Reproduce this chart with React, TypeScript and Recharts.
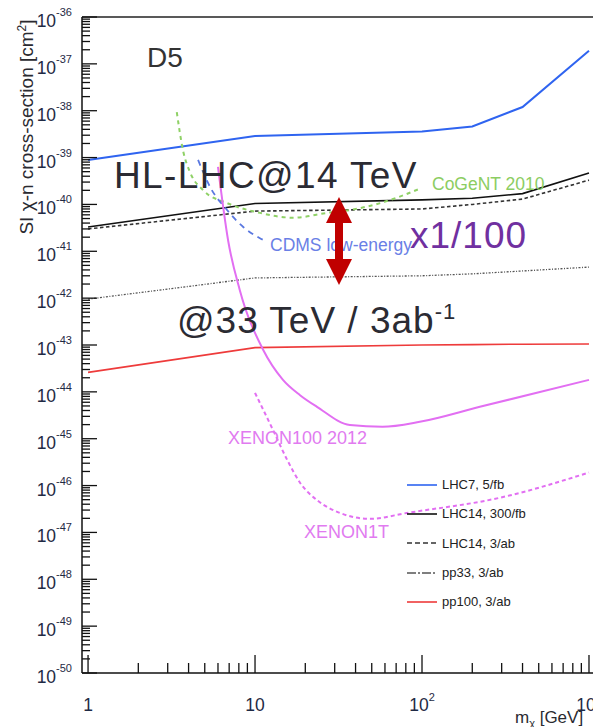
import React from "react";
import { LineChart, Line, XAxis, YAxis, ReferenceLine, Legend } from "recharts";

const FONT = "'Liberation Sans', Arial, Helvetica, sans-serif";

// collider limits for the D5 operator (SI chi-n cross-section in cm^2)
const colliderMass = [1, 10, 100, 200, 400, 1000];
const lhc7Xs = [8.9e-40, 2.9e-39, 3.6e-39, 4.6e-39, 1.2e-38, 1.9e-37];
const lhc14LumiLowXs = [3.3e-41, 1.05e-40, 1.25e-40, 1.35e-40, 1.7e-40, 4.7e-40];
const lhc14LumiHighXs = [3.0e-41, 7.2e-41, 8.0e-41, 1.0e-40, 1.3e-40, 3.3e-40];
const pp33Xs = [9.5e-43, 2.7e-42, 3.0e-42, 3.3e-42, 3.8e-42, 4.6e-42];
const pp100Xs = [2.6e-44, 8.8e-44, 1.0e-43, 1.02e-43, 1.04e-43, 1.05e-43];

// direct detection curves
const cogentMass = [3.4, 3.7, 4.1, 4.9, 6.8, 10.7, 17, 27, 37, 58, 95];
const cogentXs = [9.3e-39, 1.45e-39, 4.7e-40, 2.0e-40, 1.07e-40, 6.6e-41, 5.2e-41, 6.6e-41, 7.6e-41, 1.1e-40, 2.1e-40];
const cdmsMass = [4.56, 5.4, 6.8, 8.5, 10.7, 11.8];
const cdmsXs = [8.9e-40, 2.3e-40, 7.6e-41, 3.3e-41, 1.9e-41, 1.6e-41];
const xenon100Mass = [6.0, 6.9, 8.1, 11.2, 14.7, 18.6, 23.5, 37, 58, 97, 222, 1000];
const xenon100Xs = [6.3e-40, 1.7e-41, 1.5e-42, 7.8e-44, 1.8e-44, 8.5e-45, 4.8e-45, 1.96e-45, 1.8e-45, 2.3e-45, 4.8e-45, 1.8e-44];
const xenon1tMass = [10, 12.8, 15.6, 18.6, 23.5, 32.3, 48.8, 81, 293, 1000];
const xenon1tXs = [9.5e-45, 1.55e-45, 3.5e-46, 1.15e-46, 4.9e-47, 2.6e-47, 1.95e-47, 2.6e-47, 5.5e-47, 1.9e-46];

// axis ticks
const yExponents = [-50, -49, -48, -47, -46, -45, -44, -43, -42, -41, -40, -39, -38, -37, -36];
const xExponents = [0, 1, 2, 3];
const minorSteps = [2, 3, 4, 5, 6, 7, 8, 9];

const yTicks = yExponents.flatMap((e) => {
  const base = Math.pow(10, e);
  return e < -36 ? [base, ...minorSteps.map((s) => s * base)] : [base];
});
const xTicks = xExponents.flatMap((e) => {
  const base = Math.pow(10, e);
  return e < 3 ? [base, ...minorSteps.map((s) => s * base)] : [base];
});

const zip = (mass: number[], xs: number[]) => mass.map((m, i) => ({ m, xs: xs[i] }));

const colliderSeries = [
  { name: "LHC7, 5/fb", xs: lhc7Xs, color: "#2f64f0", width: 2, dash: undefined, legendDash: undefined },
  { name: "LHC14, 300/fb", xs: lhc14LumiLowXs, color: "#111111", width: 1.6, dash: undefined, legendDash: undefined },
  { name: "LHC14, 3/ab", xs: lhc14LumiHighXs, color: "#333333", width: 1.6, dash: "3.5 2.5", legendDash: "5 3" },
  { name: "pp33, 3/ab", xs: pp33Xs, color: "#555555", width: 1.3, dash: "2 1.5 1 1.5", legendDash: "9 2 2 2" },
  { name: "pp100, 3/ab", xs: pp100Xs, color: "#ee3b3b", width: 1.6, dash: undefined, legendDash: undefined },
];

const isMajor = (v: number) => Math.abs(Math.log10(v) - Math.round(Math.log10(v))) < 1e-6;

function YTick(props: any) {
  const { x, y, payload } = props;
  const v = payload.value as number;
  const major = isMajor(v);
  const e = Math.round(Math.log10(v));
  return (
    <g>
      <line x1={x} x2={x + (major ? 15 : 8)} y1={y} y2={y} stroke="#111" strokeWidth={1.3} />
      {major && (
        <text x={x - 10} y={y + 10} textAnchor="end" fontSize={17.5} fill="#1f2a44" fontFamily={FONT}>
          10
          <tspan dy={-11} fontSize={11}>
            {e}
          </tspan>
        </text>
      )}
    </g>
  );
}

function XTick(props: any) {
  const { x, y, payload } = props;
  const v = payload.value as number;
  const major = isMajor(v);
  const e = Math.round(Math.log10(v));
  return (
    <g>
      <line x1={x} x2={x} y1={y} y2={y - (major ? 18 : 10)} stroke="#111" strokeWidth={1.3} />
      {major && (
        <text x={x} y={y + 38} textAnchor="middle" fontSize={17.5} fill="#1f2a44" fontFamily={FONT}>
          {e === 0 ? "1" : "10"}
          {e >= 2 && (
            <tspan dy={-10} fontSize={11}>
              {e}
            </tspan>
          )}
        </text>
      )}
    </g>
  );
}

function LegendBox() {
  return (
    <div style={{ fontFamily: FONT, fontSize: 13, color: "#222" }}>
      {colliderSeries.map((s) => (
        <div key={s.name} style={{ display: "flex", alignItems: "center", height: 29.3 }}>
          <svg width={36} height={10}>
            <line x1={2} x2={32} y1={5} y2={5} stroke={s.color} strokeWidth={1.6} strokeDasharray={s.legendDash} />
          </svg>
          <span style={{ marginLeft: 1 }}>{s.name}</span>
        </div>
      ))}
    </div>
  );
}

export default function App() {
  return (
    <div
      style={{
        position: "absolute",
        left: 0,
        top: 0,
        width: 593,
        height: 727,
        overflow: "hidden",
        background: "#fff",
        fontFamily: FONT,
      }}
    >
      <LineChart width={620} height={727} margin={{ top: 17, right: 20, bottom: 24, left: 22 }}>
        <XAxis
          dataKey="m"
          type="number"
          scale="log"
          domain={[0.92, 1164]}
          allowDataOverflow
          ticks={xTicks}
          interval={0}
          height={30}
          tickSize={0}
          tickMargin={0}
          tickLine={false}
          axisLine={{ stroke: "#111", strokeWidth: 1.5 }}
          tick={(p: any) => <XTick {...p} />}
        />
        <YAxis
          type="number"
          scale="log"
          domain={[1e-50, 1e-36]}
          allowDataOverflow
          ticks={yTicks}
          interval={0}
          width={60}
          tickSize={0}
          tickMargin={0}
          tickLine={false}
          axisLine={{ stroke: "#111", strokeWidth: 1.5 }}
          tick={(p: any) => <YTick {...p} />}
        />
        <ReferenceLine y={1e-36} stroke="#222" strokeWidth={1.5} />

        {colliderSeries.map((s) => (
          <Line
            key={s.name}
            name={s.name}
            data={zip(colliderMass, s.xs)}
            dataKey="xs"
            type="linear"
            stroke={s.color}
            strokeWidth={s.width}
            strokeDasharray={s.dash}
            dot={false}
            isAnimationActive={false}
          />
        ))}

        <Line name="CoGeNT 2010" legendType="none" data={zip(cogentMass, cogentXs)} dataKey="xs" type="monotone" stroke="#8fd166" strokeWidth={2} strokeDasharray="4 4" dot={false} isAnimationActive={false} />
        <Line name="CDMS low-energy" legendType="none" data={zip(cdmsMass, cdmsXs)} dataKey="xs" type="monotone" stroke="#5a78e0" strokeWidth={1.8} strokeDasharray="6 5" dot={false} isAnimationActive={false} />
        <Line name="XENON100 2012" legendType="none" data={zip(xenon100Mass, xenon100Xs)} dataKey="xs" type="monotone" stroke="#e26ff2" strokeWidth={2} dot={false} isAnimationActive={false} />
        <Line name="XENON1T" legendType="none" data={zip(xenon1tMass, xenon1tXs)} dataKey="xs" type="monotone" stroke="#e26ff2" strokeWidth={2} strokeDasharray="4 3" dot={false} isAnimationActive={false} />

        <Legend
          layout="vertical"
          align="center"
          verticalAlign="middle"
          wrapperStyle={{ left: 405, top: 470, width: 170, height: 150 }}
          content={() => <LegendBox />}
        />
      </LineChart>

      <svg
        width={593}
        height={727}
        style={{ position: "absolute", left: 0, top: 0, pointerEvents: "none" }}
        fontFamily={FONT}
      >
        <text x={147} y={67} fontSize={28} fill="#333">D5</text>
        <text x={114} y={188} fontSize={37} fill="#2b2b33" letterSpacing={1.4}>HL-LHC@14 TeV</text>
        <text x={410} y={248} fontSize={37} fill="#7030a0" letterSpacing={1}>x1/100</text>
        <text x={177} y={333} fontSize={37} fill="#2b2b33" letterSpacing={1}>
          @33 TeV / 3ab
          <tspan dy={-14} fontSize={22}>-1</tspan>
        </text>

        <text x={432} y={190} fontSize={17.5} fill="#8ccd62">CoGeNT 2010</text>
        <text x={270} y={251} fontSize={17.5} fill="#6a7fe6">CDMS low-energy</text>
        <text x={228} y={444} fontSize={18} fill="#e17bf0">XENON100 2012</text>
        <text x={304} y={538} fontSize={18} fill="#e17bf0">XENON1T</text>

        <g fill="#c00000">
          <rect x={335} y={220} width={8} height={42} />
          <polygon points="326,223 352,223 339,197" />
          <polygon points="326,259 352,259 339,285" />
        </g>

        <text x={33} y={127} fontSize={19} fill="#2a2a30" textAnchor="middle" transform="rotate(-90, 33, 127)">
          SI χ-n cross-section [cm
          <tspan dy={-7} fontSize={12}>2</tspan>
          <tspan dy={7}>]</tspan>
        </text>
        <text x={515} y={723} fontSize={17} fill="#2a2a30">
          m
          <tspan dy={4} fontSize={11}>χ</tspan>
          <tspan dy={-4}> [GeV]</tspan>
        </text>
      </svg>
    </div>
  );
}
